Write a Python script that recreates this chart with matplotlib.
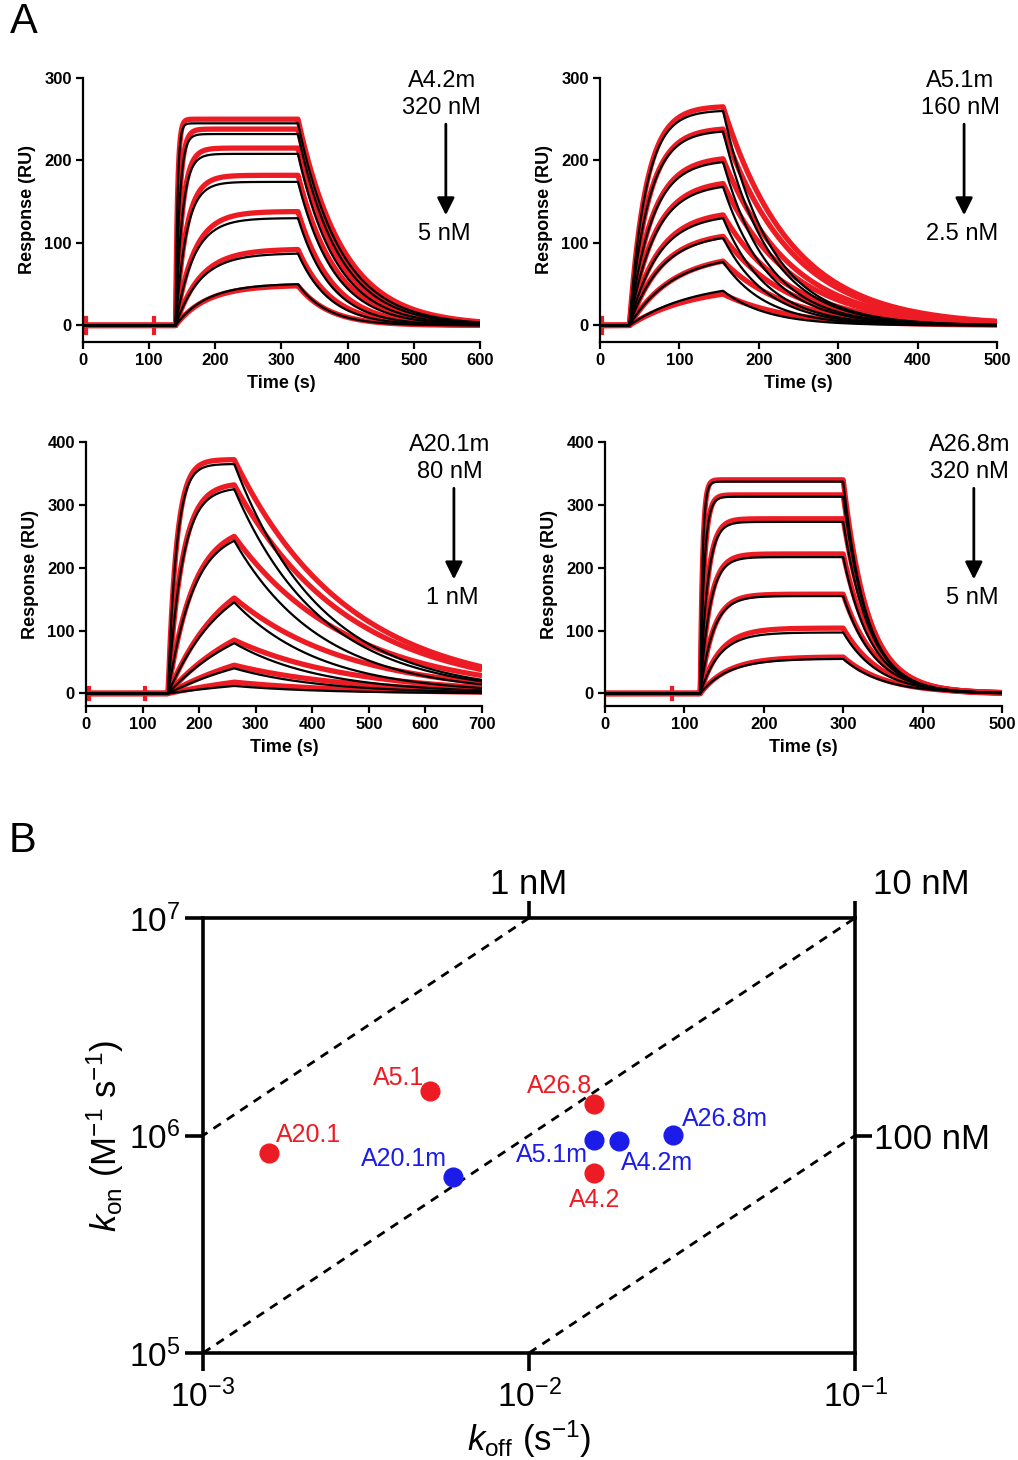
import numpy as np
import matplotlib
matplotlib.use("Agg")
import matplotlib.pyplot as plt

plt.rcParams["font.family"] = ["Liberation Sans", "DejaVu Sans"]
plt.rcParams["mathtext.fontset"] = "custom"
plt.rcParams["mathtext.rm"] = "Liberation Sans"
plt.rcParams["mathtext.it"] = "Liberation Sans:italic"

# ---------------------------------------------------------------------
# Panel A data
# times: injection start, injection stop, end of run (s)
# ---------------------------------------------------------------------
names = ["A4.2m", "A5.1m", "A20.1m", "A26.8m"]
conc_hi = ["320 nM", "160 nM", "80 nM", "320 nM"]
conc_lo = ["5 nM", "2.5 nM", "1 nM", "5 nM"]
t_on = [140, 37, 145, 120]
t_off = [325, 155, 262, 300]
t_end = [600, 500, 700, 500]
y_top = [300, 300, 400, 400]
spikes = [[5, 108], [3], [5, 105], [85]]

fit_peak_a42 = [245, 232, 208, 174, 130, 87, 50]
data_peak_a42 = [250, 238, 215, 182, 138, 92, 48]
tau_on_a42 = [3, 6, 10, 16, 27, 37, 47]
tau_off_a42 = [65, 62, 58, 55, 50, 48, 45]

fit_peak_a51 = [260, 235, 198, 168, 130, 106, 77, 42]
data_peak_a51 = [265, 238, 202, 172, 134, 108, 78, 38]
tau_on_a51 = [21, 24, 28, 32, 36, 40, 55, 80]
tau_off_a51 = [60, 60, 58, 58, 56, 56, 55, 55]

fit_peak_a201 = [365, 325, 243, 145, 80, 40, 12]
data_peak_a201 = [372, 332, 250, 152, 85, 45, 18]
tau_on_a201 = [15, 25, 45, 100, 150, 200, 250]
tau_off_a201 = [155, 155, 155, 155, 155, 155, 155]

fit_peak_a268 = [337, 313, 273, 217, 155, 97, 55]
data_peak_a268 = [340, 316, 278, 222, 158, 104, 58]
tau_on_a268 = [3, 5, 9, 12, 16, 24, 35]
tau_off_a268 = [30, 32, 34, 36, 40, 45, 50]

# red data dissociates a bit slower than the fit in some panels
data_tau_scale = [1.05, 1.45, 1.3, 1.05]

fit_peaks = [fit_peak_a42, fit_peak_a51, fit_peak_a201, fit_peak_a268]
data_peaks = [data_peak_a42, data_peak_a51, data_peak_a201, data_peak_a268]
taus_on = [tau_on_a42, tau_on_a51, tau_on_a201, tau_on_a268]
taus_off = [tau_off_a42, tau_off_a51, tau_off_a201, tau_off_a268]

# ---------------------------------------------------------------------
# Panel B data (kon vs koff)
# ---------------------------------------------------------------------
wt_labels = ["A20.1", "A5.1", "A26.8", "A4.2"]
wt_koff = [1.59e-3, 4.97e-3, 1.585e-2, 1.585e-2]
wt_kon = [8.35e5, 1.61e6, 1.40e6, 6.75e5]

mut_labels = ["A20.1m", "A5.1m", "A4.2m", "A26.8m"]
mut_koff = [5.86e-3, 1.585e-2, 1.89e-2, 2.77e-2]
mut_kon = [6.47e5, 9.55e5, 9.44e5, 1.01e6]

kd_values = [1e-9, 1e-8, 1e-7]

RED = "#ed1c24"
BLUE = "#1c1ce8"


def sensorgram(t, ton, toff, peak, tau_on, tau_off):
    r = np.zeros_like(t)
    a = (t >= ton) & (t < toff)
    norm = 1 - np.exp(-(toff - ton) / tau_on)
    r[a] = peak * (1 - np.exp(-(t[a] - ton) / tau_on)) / norm
    d = t >= toff
    r[d] = peak * np.exp(-(t[d] - toff) / tau_off)
    return r


fig = plt.figure(figsize=(10.18, 14.6), dpi=100)

# axes rectangles in figure fractions
rects = [
    [0.0815, 0.7658, 0.390, 0.1808],
    [0.5894, 0.7658, 0.390, 0.1808],
    [0.0845, 0.5164, 0.389, 0.1808],
    [0.5943, 0.5164, 0.390, 0.1808],
]
label_x = [0.904, 0.907, 0.919, 0.919]

for i in range(4):
    ax = fig.add_axes(rects[i])
    t = np.linspace(0, t_end[i], 3000)
    for pk, ta, tf in zip(data_peaks[i], taus_on[i], taus_off[i]):
        y = sensorgram(t, t_on[i], t_off[i], pk, ta, tf * data_tau_scale[i])
        ax.plot(t, y, color=RED, lw=3.8, solid_capstyle="butt", zorder=2)
    for ts in spikes[i]:
        ax.plot([ts, ts], [-9, 9], color=RED, lw=3, zorder=2)
    for pk, ta, tf in zip(fit_peaks[i], taus_on[i], taus_off[i]):
        y = sensorgram(t, t_on[i], t_off[i], pk, ta, tf)
        ax.plot(t, y, color="black", lw=1.6, zorder=3)

    ax.set_xlim(0, t_end[i])
    ax.set_ylim(-20, y_top[i])
    ax.set_xticks(np.arange(0, t_end[i] + 1, 100))
    ax.set_yticks(np.arange(0, y_top[i] + 1, 100))
    for s in ["top", "right"]:
        ax.spines[s].set_visible(False)
    for s in ["left", "bottom"]:
        ax.spines[s].set_linewidth(1.6)
    ax.tick_params(direction="out", length=5, width=1.6, labelsize=12, pad=3)
    for lab in ax.get_xticklabels() + ax.get_yticklabels():
        lab.set_fontweight("bold")
    ax.set_xlabel("Time (s)", fontsize=13, fontweight="bold", labelpad=5)
    ax.set_ylabel("Response (RU)", fontsize=13, fontweight="bold", labelpad=6)

    lx = label_x[i]
    ax.text(lx, 1.03, names[i] + "\n" + conc_hi[i], transform=ax.transAxes,
            ha="center", va="top", fontsize=17, linespacing=1.27, clip_on=False)
    ax.annotate("", xy=(lx + 0.01, 0.48), xytext=(lx + 0.01, 0.825),
                xycoords="axes fraction", textcoords="axes fraction",
                arrowprops=dict(arrowstyle="-|>", lw=2, color="black",
                                mutation_scale=26, shrinkA=0, shrinkB=0))
    ax.text(lx + 0.005, 0.41, conc_lo[i], transform=ax.transAxes,
            ha="center", va="center", fontsize=17)

fig.text(0.010, 0.9986, "A", fontsize=30, va="top", ha="left")
fig.text(0.008, 0.4377, "B", fontsize=30, va="top", ha="left")

# ---------------------------------------------------------------------
# Panel B
# ---------------------------------------------------------------------
axb = fig.add_axes([0.1994, 0.0733, 0.6405, 0.2979])
axb.set_xscale("log")
axb.set_yscale("log")
axb.set_xlim(1e-3, 1e-1)
axb.set_ylim(1e5, 1e7)

kon_line = np.array([1e5, 1e7])
for kd in kd_values:
    axb.plot(kd * kon_line, kon_line, ls=(0, (3.2, 2.6)), color="black", lw=2, zorder=1)

axb.plot(wt_koff, wt_kon, "o", color=RED, ms=13.5, zorder=3)
axb.plot(mut_koff, mut_kon, "o", color=BLUE, ms=13.5, zorder=3)

# label offsets in pixels (dx, dy, ha)
wt_offsets = [(7, 11, "left"), (-6, 6, "right"), (-2, 11, "right"), (0, -34, "center")]
mut_offsets = [(-6, 11, "right"), (-6, -22, "right"), (2, -29, "left"), (9, 9, "left")]
for lab, x, y, (dx, dy, ha) in zip(wt_labels, wt_koff, wt_kon, wt_offsets):
    axb.annotate(lab, (x, y), xytext=(dx, dy), textcoords="offset pixels",
                 ha=ha, va="baseline", fontsize=18, color=RED)
for lab, x, y, (dx, dy, ha) in zip(mut_labels, mut_koff, mut_kon, mut_offsets):
    axb.annotate(lab, (x, y), xytext=(dx, dy), textcoords="offset pixels",
                 ha=ha, va="baseline", fontsize=18, color=BLUE)

for s in axb.spines.values():
    s.set_linewidth(2.6)
axb.minorticks_off()
axb.set_xticks([1e-3, 1e-2, 1e-1])
axb.set_xticklabels([r"$\mathregular{10^{-3}}$", r"$\mathregular{10^{-2}}$", r"$\mathregular{10^{-1}}$"])
axb.set_yticks([1e5, 1e6, 1e7])
axb.set_yticklabels([r"$\mathregular{10^{5}}$", r"$\mathregular{10^{6}}$", r"$\mathregular{10^{7}}$"])
axb.tick_params(direction="out", length=13, width=2.6, labelsize=24, pad=3)
axb.tick_params(axis="x", pad=6)

# KD ticks on the top and right spines
axt = axb.twiny()
axt.set_xscale("log")
axt.set_xlim(1e-3, 1e-1)
axt.minorticks_off()
axt.set_xticks([1e-2, 1e-1])
axt.set_xticklabels([])
axt.tick_params(direction="out", length=12, width=2.6)
axr = axb.twinx()
axr.set_yscale("log")
axr.set_ylim(1e5, 1e7)
axr.minorticks_off()
axr.set_yticks([1e6])
axr.set_yticklabels(["100 nM"])
axr.tick_params(direction="out", length=12, width=2.6, labelsize=25, pad=2)
for a in (axt, axr):
    for s in a.spines.values():
        s.set_visible(False)

axb.text(1e-2, 1.04, "1 nM", transform=axb.get_xaxis_transform(),
         ha="center", va="bottom", fontsize=25)
axb.text(1.101, 1.04, "10 nM", transform=axb.transAxes,
         ha="center", va="bottom", fontsize=25)

axb.set_xlabel(r"$k_{\mathrm{off}}\ \mathrm{(s^{-1})}$", fontsize=25)
axb.xaxis.set_label_coords(0.5, -0.15)
axb.set_ylabel(r"$k_{\mathrm{on}}\ \mathrm{(M^{-1}\ s^{-1})}$", fontsize=25)
axb.yaxis.set_label_coords(-0.118, 0.5)

fig.savefig("out.png", dpi=100)
